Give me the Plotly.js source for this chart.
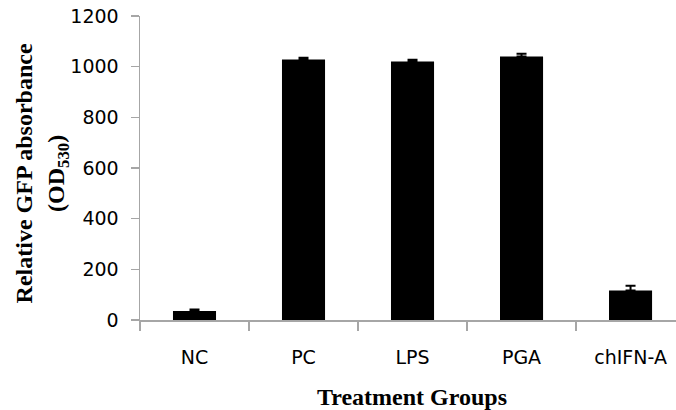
<!DOCTYPE html>
<html>
<head>
<meta charset="utf-8">
<script src="https://cdn.plot.ly/plotly-3.0.1.min.js"></script>
<style>html,body{margin:0;padding:0;background:#fff;}#chart{width:676px;height:410px;}</style>
</head>
<body>
<div id="chart"></div>
<script>
const categories = ["NC", "PC", "LPS", "PGA", "chIFN-A"];
const values = [36, 1028, 1020, 1040, 116];
const errors = [5, 7, 7, 11, 19];
const yTicks = [0, 200, 400, 600, 800, 1000, 1200];

const trace = {
  type: "bar",
  x: categories,
  y: values,
  marker: {color: "#000000", line: {width: 0}},
  width: 0.395,
  error_y: {type: "data", array: errors, symmetric: false, arrayminus: errors.map(() => 0),
            color: "#000000", thickness: 2, width: 5},
  hoverinfo: "none"
};

const tickFont = {family: "DejaVu Sans, sans-serif", size: 19, color: "#000"};

const layout = {
  width: 676, height: 410,
  margin: {l: 140, r: 0, t: 16, b: 90},
  paper_bgcolor: "#ffffff", plot_bgcolor: "#ffffff",
  showlegend: false,
  font: tickFont,
  xaxis: {
    type: "category",
    range: [-0.5, 4.417],
    showline: true, linecolor: "#a6a6a6", linewidth: 1.5,
    ticks: "outside", tickson: "boundaries", ticklen: 9, tickcolor: "#a6a6a6", tickwidth: 1.5,
    showgrid: false, zeroline: false,
    tickfont: tickFont,
    ticklabelstandoff: 20
  },
  yaxis: {
    range: [0, 1200],
    tickvals: yTicks,
    ticktext: yTicks.map(String),
    showline: true, linecolor: "#a6a6a6", linewidth: 1.5,
    ticks: "outside", ticklen: 8, tickcolor: "#a6a6a6", tickwidth: 1.5,
    showgrid: false, zeroline: false,
    tickfont: tickFont,
    ticklabelstandoff: 8
  },
  annotations: [
    {text: "<b>Relative GFP absorbance<br>(OD<sub>530</sub>)</b>", xref: "paper", yref: "paper",
     x: -0.183, y: 0.482, xanchor: "center", yanchor: "middle", textangle: -90, showarrow: false,
     font: {family: "Liberation Serif, serif", size: 24, color: "#000"}},
    {text: "<b>Treatment Groups</b>", xref: "paper", yref: "paper",
     x: 0.5075, y: -0.253, xanchor: "center", yanchor: "middle", showarrow: false,
     font: {family: "Liberation Serif, serif", size: 24, color: "#000"}}
  ]
};

Plotly.newPlot("chart", [trace], layout, {displayModeBar: false, staticPlot: true});
</script>
</body>
</html>
